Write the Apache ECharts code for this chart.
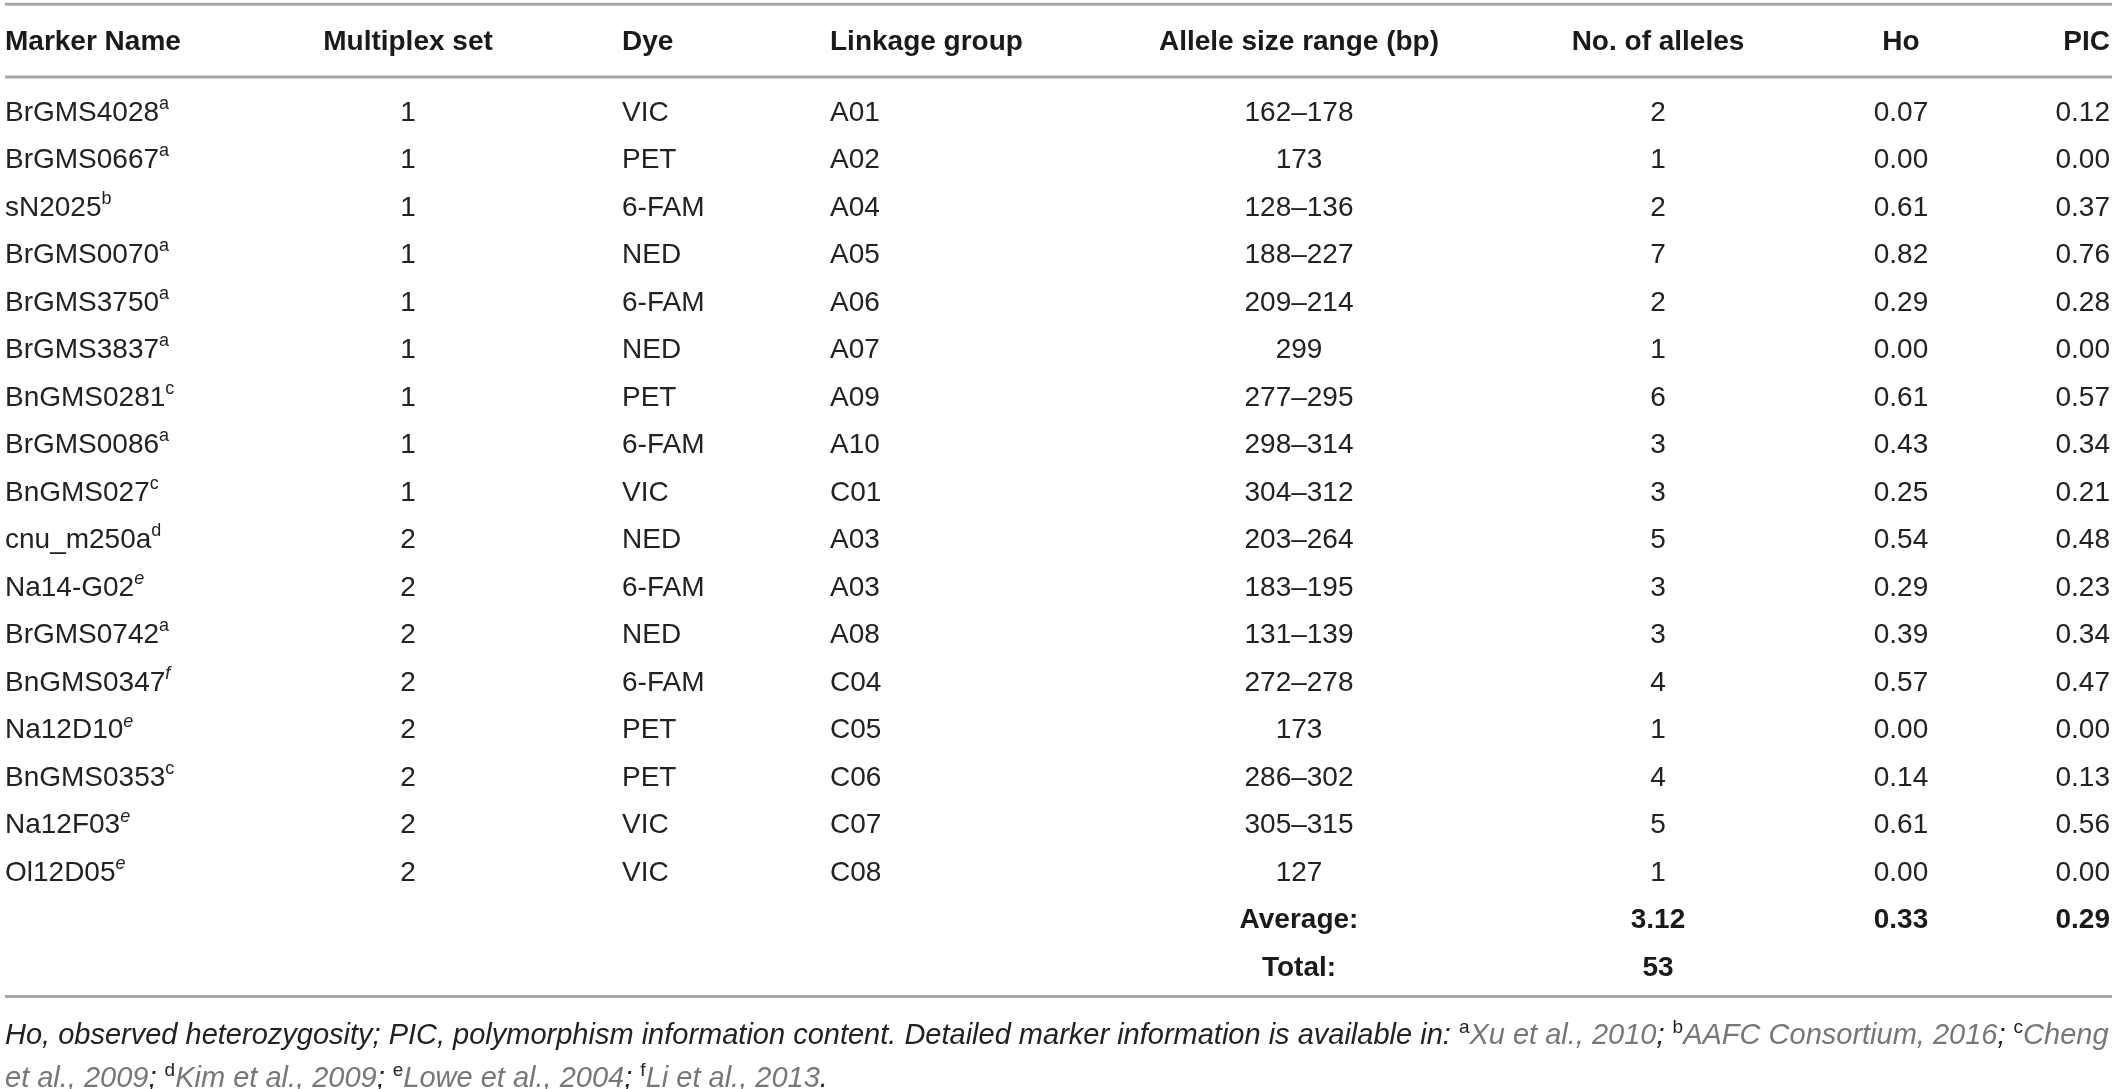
<!DOCTYPE html>
<html><head><meta charset="utf-8">
<script src="https://cdn.jsdelivr.net/npm/echarts@6/dist/echarts.min.js"></script>
<style>html,body{margin:0;padding:0;background:#fff}#c{width:2117px;height:1089px}</style>
</head><body><div id="c"></div>
<script>
// ---- data ----
const headers = ['Marker Name','Multiplex set','Dye','Linkage group','Allele size range (bp)','No. of alleles','Ho','PIC'];
const markers = ['BrGMS4028','BrGMS0667','sN2025','BrGMS0070','BrGMS3750','BrGMS3837','BnGMS0281','BrGMS0086','BnGMS027','cnu_m250a','Na14-G02','BrGMS0742','BnGMS0347','Na12D10','BnGMS0353','Na12F03','Ol12D05'];
const markerRefs = ['a','a','b','a','a','a','c','a','c','d','e','a','f','e','c','e','e'];
const multiplexSet = [1,1,1,1,1,1,1,1,1,2,2,2,2,2,2,2,2];
const dyes = ['VIC','PET','6-FAM','NED','6-FAM','NED','PET','6-FAM','VIC','NED','6-FAM','NED','6-FAM','PET','PET','VIC','VIC'];
const linkageGroups = ['A01','A02','A04','A05','A06','A07','A09','A10','C01','A03','A03','A08','C04','C05','C06','C07','C08'];
const alleleRanges = ['162–178','173','128–136','188–227','209–214','299','277–295','298–314','304–312','203–264','183–195','131–139','272–278','173','286–302','305–315','127'];
const alleleCounts = [2,1,2,7,2,1,6,3,3,5,3,3,4,1,4,5,1];
const hoValues = [0.07,0.00,0.61,0.82,0.29,0.00,0.61,0.43,0.25,0.54,0.29,0.39,0.57,0.00,0.14,0.61,0.00];
const picValues = [0.12,0.00,0.37,0.76,0.28,0.00,0.57,0.34,0.21,0.48,0.23,0.34,0.47,0.00,0.13,0.56,0.00];
const averageRow = {label:'Average:', alleles:'3.12', ho:'0.33', pic:'0.29'};
const totalRow = {label:'Total:', alleles:'53'};

// ---- layout (not data) ----
const colX = [5, 408, 622, 830, 1299, 1658, 1901, 2110];
const colAlign = ['left','center','left','left','center','center','center','right'];
const HEADER_ROW = -1.49;
const RULE_ROWS = [-2.29, -0.758, 18.6];
const FONT = '"Liberation Sans", Arial, Helvetica, sans-serif';
const FS = 28;

const RICH = {
  n: {fontFamily: FONT, fontSize: FS, lineHeight: 36, fill: '#222', color: '#222'},
  b: {fontFamily: FONT, fontSize: FS, fontWeight: 'bold', lineHeight: 36, fill: '#1a1a1a', color: '#1a1a1a'},
  s: {fontFamily: FONT, fontSize: 18, lineHeight: 16, verticalAlign: 'top', fill: '#222', color: '#222'},
  si: {fontFamily: FONT, fontSize: 18, fontStyle: 'italic', lineHeight: 16, verticalAlign: 'top', fill: '#222', color: '#222'}
};

const cells = [];
function add(col, row, text) { cells.push({x: colX[col], y: row, align: colAlign[col], text: text}); }
headers.forEach((h, i) => add(i, HEADER_ROW, '{b|' + h + '}'));
markers.forEach((m, r) => {
  const ref = markerRefs[r];
  const supStyle = (ref === 'e' || ref === 'f') ? 'si' : 's';
  add(0, r, '{n|' + m + '}{' + supStyle + '|' + ref + '}');
  add(1, r, '{n|' + multiplexSet[r] + '}');
  add(2, r, '{n|' + dyes[r] + '}');
  add(3, r, '{n|' + linkageGroups[r] + '}');
  add(4, r, '{n|' + alleleRanges[r] + '}');
  add(5, r, '{n|' + alleleCounts[r] + '}');
  add(6, r, '{n|' + hoValues[r].toFixed(2) + '}');
  add(7, r, '{n|' + picValues[r].toFixed(2) + '}');
});
const avgR = markers.length, totR = markers.length + 1;
add(4, avgR, '{b|' + averageRow.label + '}');
add(5, avgR, '{b|' + averageRow.alleles + '}');
add(6, avgR, '{b|' + averageRow.ho + '}');
add(7, avgR, '{b|' + averageRow.pic + '}');
add(4, totR, '{b|' + totalRow.label + '}');
add(5, totR, '{b|' + totalRow.alleles + '}');

const chart = echarts.init(document.getElementById('c'), null, {renderer: 'canvas'});

const FN = 29;
const fnRich = {
  t: {fontFamily: FONT, fontSize: FN, fontStyle: 'italic', fill: '#222', lineHeight: 36},
  r: {fontFamily: FONT, fontSize: FN, fontStyle: 'italic', fill: '#777', lineHeight: 36},
  p: {fontFamily: FONT, fontSize: FN, fill: '#222', lineHeight: 36},
  u: {fontFamily: FONT, fontSize: 19, fill: '#222', lineHeight: 18, verticalAlign: 'top'}
};
const fnLine1 = '{t|Ho, observed heterozygosity; PIC, polymorphism information content. Detailed marker information is available in: }{u|a}{r|Xu et al., 2010}{t|; }{u|b}{r|AAFC Consortium, 2016}{t|; }{u|c}{r|Cheng}';
const fnLine2 = '{r|et al., 2009}{t|; }{u|d}{r|Kim et al., 2009}{t|; }{u|e}{r|Lowe et al., 2004}{t|; }{u|f}{r|Li et al., 2013}{t|.}';

chart.setOption({
  animation: false,
  backgroundColor: '#fff',
  grid: {left: 0, right: 0, top: 0, bottom: 0},
  xAxis: {type: 'value', min: 0, max: 2117, show: false},
  yAxis: {type: 'value', min: -113/47.5, max: (1089-113)/47.5, inverse: true, show: false},
  series: [
    {
      type: 'custom', name: 'rules', silent: true,
      data: RULE_ROWS.map(r => [0, r]),
      renderItem: function (params, api) {
        const a = api.coord([5, api.value(1)]);
        const b = api.coord([2112, api.value(1)]);
        return {type: 'line', shape: {x1: a[0], y1: a[1], x2: b[0], y2: b[1]}, style: {stroke: '#a8a8a8', lineWidth: 3}};
      }
    },
    {
      type: 'custom', name: 'cells', silent: true,
      data: cells.map(c => [c.x, c.y]),
      renderItem: function (params, api) {
        const c = cells[params.dataIndex];
        const p = api.coord([api.value(0), api.value(1)]);
        return {type: 'text', x: p[0], y: p[1], style: {text: c.text, rich: RICH, align: c.align, verticalAlign: 'middle', fontFamily: FONT, fontSize: FS, fill: '#222'}};
      }
    }
  ],
  graphic: [
    {type: 'text', left: 5, top: 1018, silent: true, style: {text: fnLine1, rich: fnRich, fontFamily: FONT, fontSize: FN, fill: '#222'}},
    {type: 'text', left: 5, top: 1061, silent: true, style: {text: fnLine2, rich: fnRich, fontFamily: FONT, fontSize: FN, fill: '#222'}}
  ]
});
</script></body></html>
